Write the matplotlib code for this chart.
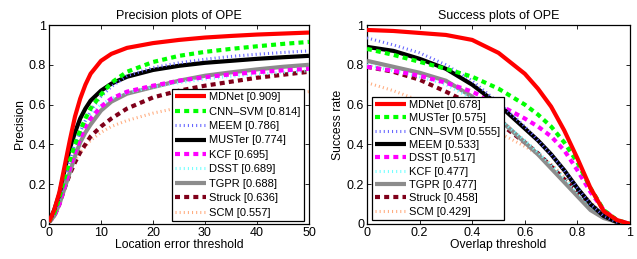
import numpy as np
import matplotlib
matplotlib.use("Agg")
import matplotlib.pyplot as plt

plt.rcParams['font.family'] = ['Liberation Sans', 'DejaVu Sans']
plt.rcParams['font.size'] = 9

# Precision plot: location error threshold (pixels)
prec_thr = [0, 1, 2, 3, 4, 5, 6, 7, 8, 10, 12, 15, 20, 25, 30, 35, 40, 45, 50]
prec_names = ["MDNet [0.909]", "CNN\u2013SVM [0.814]", "MEEM [0.786]", "MUSTer [0.774]",
              "KCF [0.695]", "DSST [0.689]", "TGPR [0.688]", "Struck [0.636]", "SCM [0.557]"]
prec_mdnet = [0.01, 0.07, 0.16, 0.29, 0.42, 0.54, 0.63, 0.70, 0.755, 0.82, 0.855, 0.885, 0.909, 0.925, 0.937, 0.945, 0.952, 0.957, 0.962]
prec_cnnsvm = [0.01, 0.05, 0.13, 0.23, 0.32, 0.40, 0.47, 0.53, 0.58, 0.65, 0.71, 0.765, 0.814, 0.845, 0.865, 0.88, 0.893, 0.905, 0.915]
prec_meem = [0.01, 0.05, 0.13, 0.23, 0.32, 0.40, 0.46, 0.52, 0.57, 0.64, 0.69, 0.745, 0.786, 0.81, 0.828, 0.842, 0.853, 0.862, 0.87]
prec_muster = [0.01, 0.07, 0.15, 0.27, 0.38, 0.46, 0.53, 0.58, 0.62, 0.67, 0.705, 0.74, 0.774, 0.795, 0.81, 0.82, 0.83, 0.838, 0.845]
prec_kcf = [0.01, 0.04, 0.10, 0.19, 0.28, 0.36, 0.43, 0.49, 0.53, 0.59, 0.63, 0.665, 0.695, 0.72, 0.738, 0.752, 0.763, 0.772, 0.78]
prec_dsst = [0.01, 0.05, 0.13, 0.23, 0.33, 0.41, 0.47, 0.52, 0.55, 0.60, 0.63, 0.66, 0.689, 0.71, 0.728, 0.742, 0.753, 0.762, 0.77]
prec_tgpr = [0.01, 0.04, 0.10, 0.18, 0.26, 0.34, 0.41, 0.46, 0.50, 0.57, 0.615, 0.655, 0.688, 0.72, 0.745, 0.762, 0.777, 0.79, 0.80]
prec_struck = [0.01, 0.04, 0.10, 0.18, 0.25, 0.31, 0.36, 0.40, 0.44, 0.49, 0.53, 0.58, 0.636, 0.67, 0.695, 0.715, 0.735, 0.75, 0.765]
prec_scm = [0.01, 0.05, 0.12, 0.20, 0.27, 0.32, 0.36, 0.39, 0.42, 0.46, 0.49, 0.52, 0.557, 0.585, 0.605, 0.623, 0.638, 0.652, 0.665]

# Success plot: overlap threshold
succ_thr = [0, 0.1, 0.2, 0.3, 0.4, 0.5, 0.6, 0.65, 0.7, 0.75, 0.8, 0.85, 0.9, 0.95, 1.0]
succ_names = ["MDNet [0.678]", "MUSTer [0.575]", "CNN\u2013SVM [0.555]", "MEEM [0.533]",
              "DSST [0.517]", "KCF [0.477]", "TGPR [0.477]", "Struck [0.458]", "SCM [0.429]"]
succ_mdnet = [0.975, 0.97, 0.96, 0.95, 0.925, 0.86, 0.755, 0.68, 0.59, 0.47, 0.33, 0.18, 0.065, 0.02, 0.0]
succ_muster = [0.88, 0.85, 0.815, 0.78, 0.74, 0.68, 0.6, 0.55, 0.49, 0.41, 0.31, 0.18, 0.07, 0.02, 0.0]
succ_cnnsvm = [0.935, 0.90, 0.86, 0.80, 0.72, 0.61, 0.49, 0.42, 0.35, 0.27, 0.18, 0.10, 0.04, 0.01, 0.0]
succ_meem = [0.89, 0.87, 0.83, 0.78, 0.70, 0.60, 0.48, 0.42, 0.35, 0.27, 0.18, 0.10, 0.04, 0.01, 0.0]
succ_dsst = [0.79, 0.77, 0.745, 0.71, 0.665, 0.60, 0.53, 0.49, 0.44, 0.37, 0.27, 0.16, 0.07, 0.02, 0.0]
succ_kcf = [0.80, 0.77, 0.74, 0.70, 0.63, 0.53, 0.42, 0.36, 0.30, 0.23, 0.16, 0.09, 0.04, 0.01, 0.0]
succ_tgpr = [0.82, 0.79, 0.76, 0.72, 0.64, 0.53, 0.41, 0.35, 0.28, 0.21, 0.14, 0.07, 0.03, 0.01, 0.0]
succ_struck = [0.79, 0.765, 0.725, 0.665, 0.60, 0.51, 0.41, 0.355, 0.29, 0.225, 0.16, 0.09, 0.04, 0.01, 0.0]
succ_scm = [0.71, 0.67, 0.62, 0.57, 0.52, 0.46, 0.39, 0.35, 0.30, 0.24, 0.18, 0.11, 0.05, 0.015, 0.0]

# line style goes by rank, not by tracker
dash = (0, (1.2, 1.0))
dot = (0, (0.35, 1.0))
rank_styles = [
    dict(color=(1, 0, 0), ls="-", lw=3.0),
    dict(color=(0, 1, 0), ls=dash, lw=3.0),
    dict(color=(0.4, 0.4, 1), ls=dot, lw=2.2),
    dict(color=(0, 0, 0), ls="-", lw=3.0),
    dict(color=(1, 0, 1), ls=dash, lw=3.0),
    dict(color=(0.45, 1, 1), ls=dot, lw=2.2),
    dict(color=(0.55, 0.55, 0.55), ls="-", lw=3.0),
    dict(color=(0.5, 0, 0.1), ls=dash, lw=3.0),
    dict(color=(1, 0.68, 0.5), ls=dot, lw=2.2),
]

prec_series = [prec_mdnet, prec_cnnsvm, prec_meem, prec_muster, prec_kcf,
               prec_dsst, prec_tgpr, prec_struck, prec_scm]
succ_series = [succ_mdnet, succ_muster, succ_cnnsvm, succ_meem, succ_dsst,
               succ_kcf, succ_tgpr, succ_struck, succ_scm]

fig = plt.figure(figsize=(6.37, 2.59), dpi=100)
ax1 = fig.add_axes([49 / 637, 35 / 259, 260 / 637, 199 / 259])
ax2 = fig.add_axes([367 / 637, 35 / 259, 263 / 637, 199 / 259])


def draw(ax, thr, series, names, legend_box, spacing):
    lines = []
    for i, (vals, label) in enumerate(zip(series, names)):
        ln, = ax.plot(thr, vals, label=label, solid_capstyle="butt",
                      dash_capstyle="butt", zorder=10 - i, **rank_styles[i])
        lines.append(ln)
    leg = ax.legend(handles=lines, loc="lower left", bbox_to_anchor=legend_box,
                    frameon=True, fancybox=False, edgecolor="black", framealpha=1,
                    handlelength=2.75, handletextpad=0.3, borderpad=0.3,
                    labelspacing=spacing, borderaxespad=0, fontsize=8)
    leg.get_frame().set_linewidth(0.9)
    leg.set_zorder(20)
    ax.tick_params(direction="in", top=True, right=True, length=3, width=0.6,
                   labelsize=9, pad=2)
    for sp in ax.spines.values():
        sp.set_linewidth(0.9)
    ax.set_ylim(0, 1)
    ax.set_yticks([0, 0.2, 0.4, 0.6, 0.8, 1])
    ax.set_yticklabels(["0", "0.2", "0.4", "0.6", "0.8", "1"])


draw(ax1, prec_thr, prec_series, prec_names,
     ((172 - 49) / 260, (224 - 221) / 199), 0.4)
ax1.set_xlim(0, 50)
ax1.set_xticks([0, 10, 20, 30, 40, 50])
ax1.set_title("Precision plots of OPE", fontsize=9, pad=4)
ax1.set_xlabel("Location error threshold", fontsize=8.7, labelpad=0)
ax1.set_ylabel("Precision", fontsize=8.7, labelpad=2)

draw(ax2, succ_thr, succ_series, succ_names,
     ((372 - 367) / 263, (224 - 220) / 199), 0.3)
ax2.set_xlim(0, 1)
ax2.set_xticks([0, 0.2, 0.4, 0.6, 0.8, 1])
ax2.set_xticklabels(["0", "0.2", "0.4", "0.6", "0.8", "1"])
ax2.set_title("Success plots of OPE", fontsize=9, pad=4)
ax2.set_xlabel("Overlap threshold", fontsize=8.7, labelpad=0)
ax2.set_ylabel("Success rate", fontsize=8.7, labelpad=2)

fig.savefig("out.png", dpi=100)
